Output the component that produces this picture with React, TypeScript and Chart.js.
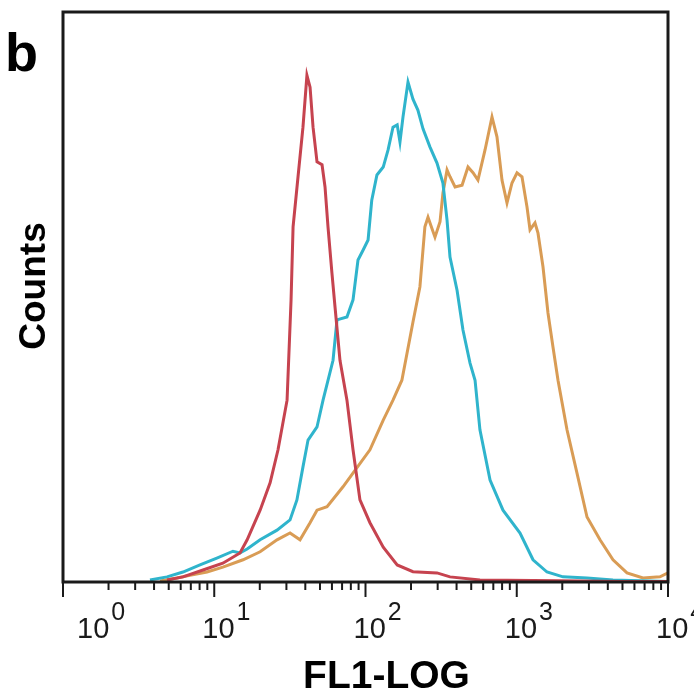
import React, { useEffect, useRef } from "react";
import { Chart, registerables } from "chart.js";

Chart.register(...registerables);

// FL1 intensity (log axis) and counts for each histogram
const redX = [4.87, 6.21, 8.43, 11.4, 14.8, 16.5, 20.1, 23.4, 26.4, 30.3, 32.2, 33.2, 35.8, 38.6, 41.0, 43.0, 45.0, 47.8, 51.6, 54.0, 56.5, 60.0, 62.9, 67.8, 75.4, 82.7, 91.9, 107, 131, 162, 206, 297, 362, 571, 1932, 4815, 10000];
const redY = [0.35, 0.9, 2.1, 3.3, 5.1, 7.4, 12.6, 17.4, 23.2, 31.9, 49.5, 62.3, 71.1, 79.8, 88.9, 86.8, 79.8, 73.7, 73.2, 69.3, 62.3, 54.2, 48.2, 38.9, 31.9, 23.2, 14.4, 10.4, 6.1, 3.0, 1.8, 1.6, 0.9, 0.35, 0.2, 0.1, 0.1];

const cyanX = [3.76, 4.87, 6.21, 8.05, 10.4, 13.3, 14.8, 16.5, 20.1, 26.0, 31.7, 35.2, 38.6, 41.7, 47.8, 52.4, 61.0, 64.8, 75.4, 82.7, 89.2, 96.3, 104, 110, 119, 131, 141, 152, 162, 169, 177, 191, 206, 222, 240, 267, 297, 325, 346, 362, 403, 441, 491, 530, 571, 666, 811, 1051, 1281, 1585, 2022, 2914, 4329, 6530, 10000];
const cyanY = [0.35, 0.9, 1.75, 3.0, 4.2, 5.4, 5.1, 5.8, 7.4, 9.1, 10.9, 14.4, 20.2, 24.9, 27.2, 31.9, 38.9, 46.0, 46.5, 49.5, 56.5, 58.2, 60.0, 67.0, 71.4, 72.8, 75.8, 79.8, 80.2, 77.2, 81.6, 87.7, 84.7, 82.8, 79.5, 76.3, 73.5, 70.0, 63.5, 57.0, 51.2, 44.2, 38.4, 35.4, 26.7, 17.9, 12.6, 8.6, 3.9, 1.75, 0.9, 0.7, 0.35, 0.2, 0.1];

const orangeX = [4.38, 5.67, 6.91, 8.96, 11.4, 15.5, 20.1, 26.0, 31.7, 36.9, 43.0, 47.8, 55.7, 71.0, 85.2, 107, 131, 152, 174, 206, 229, 247, 259, 288, 311, 325, 346, 362, 391, 435, 476, 514, 554, 617, 686, 740, 799, 862, 930, 1004, 1083, 1169, 1224, 1320, 1382, 1491, 1609, 1737, 1874, 2149, 2502, 2914, 3552, 4329, 5357, 6834, 8854, 10000];
const orangeY = [0.2, 0.7, 1.2, 1.75, 2.6, 3.9, 5.3, 7.4, 8.6, 7.4, 10.4, 12.6, 13.2, 16.7, 19.6, 23.2, 28.4, 31.9, 35.4, 45.6, 51.8, 62.3, 64.0, 60.5, 63.2, 68.2, 72.3, 71.1, 69.3, 69.6, 72.8, 71.8, 70.5, 75.8, 81.6, 78.1, 70.5, 66.5, 70.0, 71.8, 71.1, 65.8, 61.8, 63.0, 61.2, 55.3, 47.2, 41.2, 35.4, 26.7, 19.1, 11.4, 7.4, 3.9, 1.6, 0.7, 0.9, 1.6];

const decadeExponents = [0, 1, 2, 3, 4];
const tickLabels = ["0", "1", "2", "3", "4"];
const xTitle = "FL1-LOG";
const yTitle = "Counts";
const panelLabel = "b";

const FONT = "'Liberation Sans', Arial, Helvetica, sans-serif";

const toPoints = (xs: number[], ys: number[]) => xs.map((x, i) => ({ x, y: ys[i] }));

export default function App() {
  const ref = useRef<HTMLCanvasElement>(null);

  useEffect(() => {
    document.body.style.margin = "0";
    const canvas = ref.current;
    if (!canvas) return;

    const deco = {
      id: "deco",
      afterDraw(chart: any) {
        const ctx = chart.ctx as CanvasRenderingContext2D;
        const { left, right, top, bottom } = chart.chartArea;
        const xs = chart.scales.x;
        ctx.save();
        // frame
        ctx.strokeStyle = "#1a1a1a";
        ctx.lineWidth = 3;
        ctx.strokeRect(left, top, right - left, bottom - top);
        // ticks
        ctx.lineWidth = 2;
        decadeExponents.forEach((d) => {
          for (let k = 1; k <= 9; k++) {
            const v = k * Math.pow(10, d);
            if (v > 10000) break;
            const px = xs.getPixelForValue(v);
            ctx.beginPath();
            ctx.moveTo(px, bottom);
            ctx.lineTo(px, bottom + (k === 1 ? 15 : 8));
            ctx.stroke();
          }
        });
        // tick labels
        ctx.fillStyle = "#1a1a1a";
        ctx.textBaseline = "alphabetic";
        ctx.textAlign = "left";
        decadeExponents.forEach((d, i) => {
          const px = xs.getPixelForValue(Math.pow(10, d));
          let lx = px - 12;
          if (i === 0) lx = Math.max(lx, left + 14);
          ctx.font = `29px ${FONT}`;
          ctx.fillText("10", lx, bottom + 56);
          const w = ctx.measureText("10").width;
          ctx.font = `25px ${FONT}`;
          ctx.fillText(tickLabels[i], lx + w + 2, bottom + 38);
        });
        // x title
        ctx.font = `bold 39px ${FONT}`;
        ctx.textAlign = "center";
        ctx.fillStyle = "#000";
        ctx.fillText(xTitle, (left + right) / 2 + 21, bottom + 106);
        // y title
        ctx.save();
        ctx.translate(45, (top + bottom) / 2 - 11);
        ctx.rotate(-Math.PI / 2);
        ctx.font = `bold 37px ${FONT}`;
        ctx.textAlign = "center";
        ctx.fillText(yTitle, 0, 0);
        ctx.restore();
        // panel label
        ctx.font = `bold 54px ${FONT}`;
        ctx.textAlign = "left";
        ctx.fillText(panelLabel, 5, 71);
        ctx.restore();
      },
    };

    const common = { borderWidth: 3, pointRadius: 0, tension: 0, fill: false };
    const chart = new Chart(canvas, {
      type: "line",
      data: {
        datasets: [
          { ...common, label: "red", data: toPoints(redX, redY), borderColor: "#c6434f" },
          { ...common, label: "cyan", data: toPoints(cyanX, cyanY), borderColor: "#2fb4cc" },
          { ...common, label: "orange", data: toPoints(orangeX, orangeY), borderColor: "#d99c55" },
        ],
      },
      options: {
        animation: false,
        responsive: false,
        events: [],
        layout: { padding: { left: 63, right: 26, top: 12, bottom: 117 } },
        plugins: { legend: { display: false }, tooltip: { enabled: false } },
        scales: {
          x: { type: "logarithmic", min: 1, max: 10000, display: false },
          y: { type: "linear", min: 0, max: 100, display: false },
        },
      },
      plugins: [deco],
    });
    return () => chart.destroy();
  }, []);

  return <canvas ref={ref} width={694} height={699} style={{ display: "block", width: 694, height: 699 }} />;
}
